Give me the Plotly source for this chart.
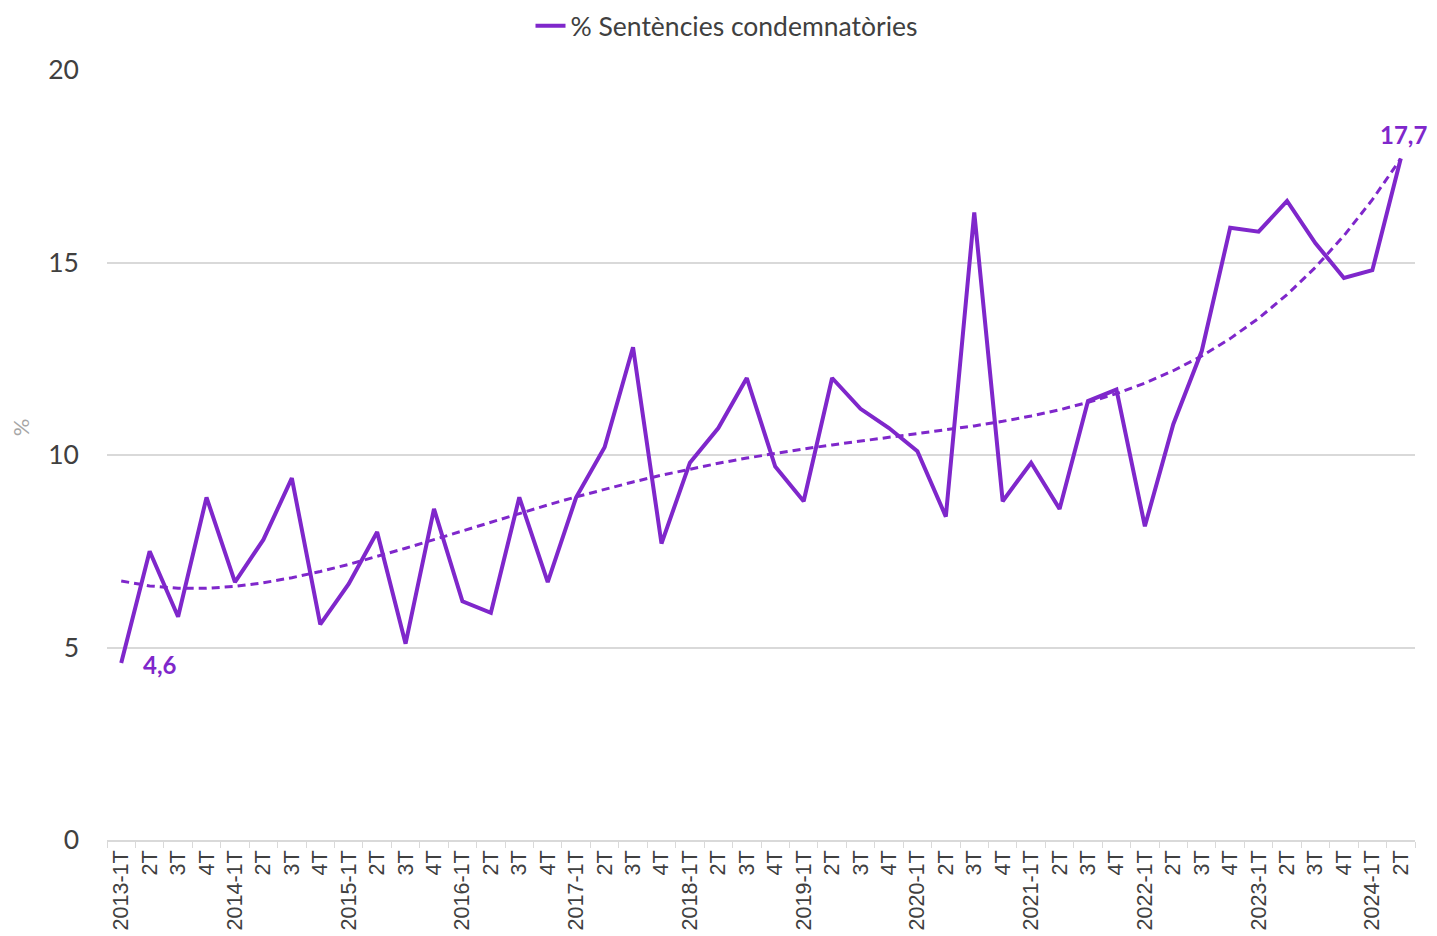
import numpy as np
import plotly.graph_objects as go

years = list(range(2013, 2025))
quarters = ["1T", "2T", "3T", "4T"]
categories = [f"{y}-{q}" for y in years for q in quarters][:46]
tick_labels = [c if c.endswith("1T") else c.split("-")[1] for c in categories]

pct_condemnatories = [
    4.6, 7.5, 5.8, 8.9,
    6.7, 7.8, 9.4, 5.6,
    6.65, 8.0, 5.1, 8.6,
    6.2, 5.9, 8.9, 6.7,
    8.9, 10.2, 12.8, 7.7,
    9.8, 10.7, 12.0, 9.7,
    8.8, 12.0, 11.2, 10.7,
    10.1, 8.4, 16.3, 8.8,
    9.8, 8.6, 11.4, 11.7,
    8.15, 10.8, 12.7, 15.9,
    15.8, 16.6, 15.5, 14.6,
    14.8, 17.7,
]

PURPLE = "#7F27CB"

# 4th-order polynomial trendline fitted on the data (as in the original chart)
idx = np.arange(1, len(pct_condemnatories) + 1)
trend = np.polyval(np.polyfit(idx, pct_condemnatories, 4), idx)

fig = go.Figure()
fig.add_trace(go.Scatter(
    x=categories, y=trend, mode="lines",
    line=dict(color=PURPLE, width=3, dash="8px,5px"),
    showlegend=False, hoverinfo="skip",
))
fig.add_trace(go.Scatter(
    x=categories, y=pct_condemnatories, mode="lines",
    line=dict(color=PURPLE, width=4),
    name="% Sentències condemnatòries",
))

fig.add_annotation(x=categories[0], y=pct_condemnatories[0], text="<b>4,6</b>",
                   showarrow=False, xanchor="left", yanchor="middle",
                   xshift=20, yshift=-2,
                   font=dict(family="Lato", size=24, color=PURPLE))
fig.add_annotation(x=categories[-1], y=pct_condemnatories[-1], text="<b>17,7</b>",
                   showarrow=False, xanchor="right", yanchor="bottom",
                   xshift=28, yshift=8,
                   font=dict(family="Lato", size=24, color=PURPLE))
fig.add_annotation(xref="paper", yref="paper", x=-0.0665, y=0.536, text="%",
                   showarrow=False, textangle=-90, xanchor="center", yanchor="middle",
                   font=dict(family="Lato", size=22, color="#a6a6a6"))

fig.update_layout(
    width=1437, height=936,
    margin=dict(l=99, r=30, t=62, b=104, autoexpand=False),
    paper_bgcolor="white", plot_bgcolor="white",
    font=dict(family="Lato", color="#404040"),
    legend=dict(orientation="h", x=0.5, xanchor="center", y=1 - 18 / 936, yanchor="middle",
                yref="container", xref="container",
                font=dict(family="Lato", size=26.5, color="#404040")),
)

fig.update_xaxes(
    type="category", categoryorder="array", categoryarray=categories,
    tickmode="array", tickvals=categories, ticktext=tick_labels,
    tickangle=-90, tickson="boundaries", ticks="outside", ticklen=6,
    tickcolor="#d9d9d9", showline=True, linecolor="#d9d9d9", linewidth=1.5,
    showgrid=False, range=[-0.5, 45.5], automargin=False,
    tickfont=dict(family="Liberation Sans", size=21.5, color="#404040"),
)
fig.update_yaxes(
    range=[0, 20], tickvals=[0, 5, 10, 15, 20], showgrid=True,
    gridcolor="#d9d9d9", gridwidth=1.5, zeroline=False, showline=False,
    ticks="", ticklabelstandoff=27, automargin=False,
    tickfont=dict(family="Lato", size=26.5, color="#404040"),
)

fig.write_html("out.html")
